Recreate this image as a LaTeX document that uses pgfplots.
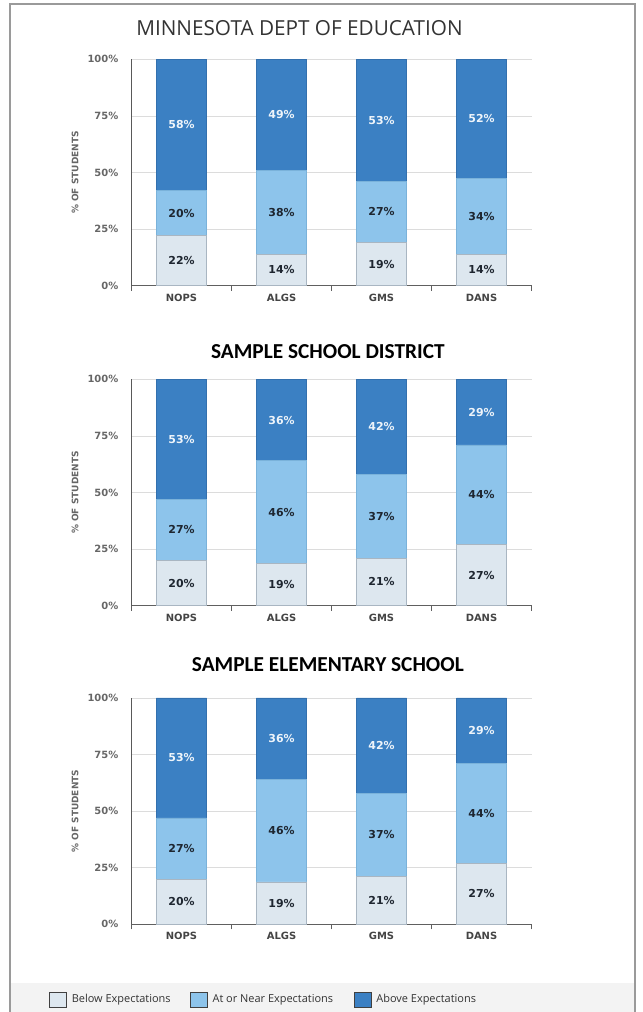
\documentclass[border=0pt]{standalone}
\usepackage{fontspec}
\setmainfont{Open Sans}
\newfontfamily\dejavu{DejaVu Sans}
\newfontfamily\carlito{Carlito}
\usepackage{pgfplots}
\usepackage{pgfplotstable}
\pgfplotsset{compat=1.18}

\definecolor{cB}{HTML}{DDE7EF}
\definecolor{cBd}{HTML}{A9B6C2}
\definecolor{cN}{HTML}{8DC4EB}
\definecolor{cNd}{HTML}{7AB2DA}
\definecolor{cA}{HTML}{3B80C3}
\definecolor{cAd}{HTML}{3370AE}
\definecolor{tickgray}{HTML}{666666}
\definecolor{xlab}{HTML}{444444}
\definecolor{dark}{HTML}{1E2630}
\definecolor{light}{HTML}{EEF4FA}
\definecolor{titlegray}{HTML}{333333}
\definecolor{frame}{HTML}{9A9A9A}
\definecolor{band}{HTML}{F3F3F3}
\definecolor{gridc}{HTML}{DCDCDC}

\pgfplotstableread{
x b n a lb ln la
0 22 20 58 22 20 58
1 14 37 49 14 38 49
2 19 27.2 53.8 19 27 53
3 14 33.4 52.6 14 34 52
}\dataA
\pgfplotstableread{
x b n a lb ln la
0 20 27 53 20 27 53
1 18.7 45.3 36 19 46 36
2 21 37 42 21 37 42
3 27 44 29 27 44 29
}\dataB
\pgfplotstableread{
x b n a lb ln la
0 20 27 53 20 27 53
1 18.7 45.3 36 19 46 36
2 21 37 42 21 37 42
3 27 44 29 27 44 29
}\dataC

\pgfplotsset{
  school/.style={
    scale only axis, width=400bp, height=226.4bp, anchor=south west,
    xmin=-0.5, xmax=3.5, ymin=0, ymax=100,
    ybar stacked, bar width=50bp,
    axis lines*=left,
    x axis line style={draw=gray!75!black, line width=1.1bp},
    y axis line style={draw=black!65, line width=1bp},
    ymajorgrids, grid style={draw=gridc, line width=0.8bp},
    ytick={0,25,50,75,100},
    yticklabels={0\%,25\%,50\%,75\%,100\%},
    ytick style={draw=none},
    yticklabel style={font=\dejavu\bfseries\fontsize{10}{12}\selectfont, text=tickgray, inner sep=0pt, anchor=east, xshift=-13bp},
    xtick={0,1,2,3}, xticklabels={NOPS,ALGS,GMS,DANS},
    xtick style={draw=none},
    xticklabel style={font=\dejavu\bfseries\fontsize{10}{12}\selectfont, text=xlab, inner sep=0pt, anchor=north, yshift=-8bp},
    extra x ticks={-0.5,0.5,1.5,2.5,3.5},
    extra x tick style={xticklabel={}, major tick length=5bp, tick align=outside, xtick style={draw=gray!75!black, line width=0.8bp}},
    ylabel={\% OF STUDENTS},
    ylabel style={font=\dejavu\bfseries\fontsize{9}{11}\selectfont, text=tickgray, at={(axis description cs:-0.141,0.5)}, anchor=center},
    point meta=explicit symbolic,
    nodes near coords={\pgfplotspointmeta\%},
    every node near coord/.append style={anchor=center, font=\dejavu\bfseries\fontsize{11}{13}\selectfont},
    legend image code/.code={\draw[#1,draw=black!75,line width=0.8bp] (0bp,-7.5bp) rectangle (17bp,7.5bp);},
  },
  pB/.style={fill=cB, draw=cBd, line width=0.8bp, every node near coord/.append style={text=dark}},
  pN/.style={fill=cN, draw=cNd, line width=0.8bp, every node near coord/.append style={text=dark}},
  pA/.style={fill=cA, draw=cAd, line width=0.8bp, every node near coord/.append style={text=light}},
}

\begin{document}
\begin{tikzpicture}
\useasboundingbox (0,0) rectangle (643bp,-1012bp);
\fill[band] (10bp,-983bp) rectangle (635bp,-1013bp);
\draw[frame, line width=1.2bp] (10bp,-1014bp) -- (10bp,-4bp) -- (635bp,-4bp) -- (635bp,-1014bp);

\begin{axis}[school, at={(131.5bp,-285.7bp)},
  title={MINNESOTA DEPT OF EDUCATION},
  title style={font=\fontsize{20.8}{24}\selectfont, text=titlegray, at={(axis description cs:0.42,1.112)}, anchor=center, inner sep=0pt}]
\addplot[pB] table[x=x, y=b, meta=lb] {\dataA};
\addplot[pN] table[x=x, y=n, meta=ln] {\dataA};
\addplot[pA] table[x=x, y=a, meta=la] {\dataA};
\end{axis}

\begin{axis}[school, at={(131.5bp,-605.7bp)},
  title={SAMPLE SCHOOL DISTRICT},
  title style={font=\carlito\bfseries\fontsize{21.4}{25}\selectfont, text=black, at={(axis description cs:0.491,1.098)}, anchor=center, inner sep=0pt}]
\addplot[pB] table[x=x, y=b, meta=lb] {\dataB};
\addplot[pN] table[x=x, y=n, meta=ln] {\dataB};
\addplot[pA] table[x=x, y=a, meta=la] {\dataB};
\end{axis}

\begin{axis}[school, at={(131.5bp,-924.3bp)},
  title={SAMPLE ELEMENTARY SCHOOL},
  title style={font=\carlito\bfseries\fontsize{21.4}{25}\selectfont, text=black, at={(axis description cs:0.491,1.120)}, anchor=center, inner sep=0pt},
  legend columns=3,
  legend style={at={(axis description cs:-0.20625,-0.332)}, anchor=west, draw=none, fill=none, inner sep=0pt, outer sep=0pt, nodes={inner sep=0pt, font=\fontsize{11}{13}\selectfont, text=titlegray}, column sep=0pt, row sep=0pt},
  legend cell align=left]
\addplot[pB] table[x=x, y=b, meta=lb] {\dataC};
\addlegendentry{\hspace{5bp}\makebox[118bp][l]{Below Expectations}}
\addplot[pN] table[x=x, y=n, meta=ln] {\dataC};
\addlegendentry{\hspace{5bp}\makebox[141bp][l]{At or Near Expectations}}
\addplot[pA] table[x=x, y=a, meta=la] {\dataC};
\addlegendentry{\hspace{5bp}Above Expectations}
\end{axis}
\end{tikzpicture}
\end{document}
